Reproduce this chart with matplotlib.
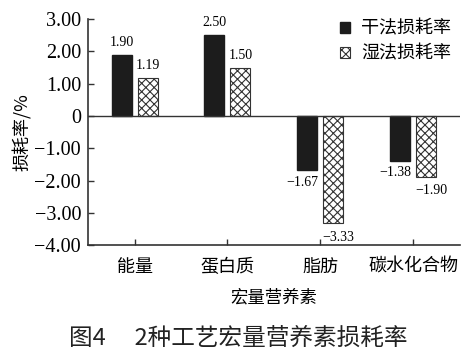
import matplotlib
matplotlib.use("Agg")
import matplotlib.pyplot as plt
import numpy as np

categories = ["能量", "蛋白质", "脂肪", "碳水化合物"]
dry = [1.90, 2.50, -1.67, -1.38]
wet = [1.19, 1.50, -3.33, -1.90]
series_names = ["干法损耗率", "湿法损耗率"]
yticks = [3, 2, 1, 0, -1, -2, -3, -4]
ytick_labels = ["3.00", "2.00", "1.00", "0", "\u22121.00", "\u22122.00", "\u22123.00", "\u22124.00"]

plt.rcParams['hatch.color'] = '#666666'
plt.rcParams['hatch.linewidth'] = 0.8
serif = ['Liberation Serif', 'Noto Sans CJK SC']
cjk = ['Noto Sans CJK SC', 'DejaVu Sans']

fig = plt.figure(figsize=(4.76, 3.61), dpi=100)
ax = fig.add_axes([0.185, 0.321, 0.781, 0.626])

x = np.arange(len(categories))
w = 0.215
off = 0.14
b1 = ax.bar(x - off, dry, w, color='#1c1c1c', edgecolor='#1c1c1c', label=series_names[0], zorder=2)
b2 = ax.bar(x + off, wet, w, color='white', edgecolor='#333333', hatch='xxxx', linewidth=0.8,
            label=series_names[1], zorder=2)

ax.axhline(0, color='#333333', lw=1.0, zorder=3)
ax.set_xlim(-0.5, 3.5)
ax.set_ylim(-4, 3)
ax.set_yticks(yticks)
ax.set_yticklabels(ytick_labels, fontfamily=serif, fontsize=14.5)
ax.set_xticks(x)
ax.set_xticklabels(categories, fontfamily=cjk, fontsize=13)
ax.tick_params(axis='both', direction='in', length=4, width=1, color='#333333')
ax.tick_params(axis='x', pad=9)
ax.tick_params(axis='y', pad=5)
for s in ['top', 'right']:
    ax.spines[s].set_visible(False)
for s in ['left', 'bottom']:
    ax.spines[s].set_color('#333333')
    ax.spines[s].set_linewidth(1.2)

def fmt(v):
    return ("\u2212%.2f" % -v) if v < 0 else "%.2f" % v

for i, v in enumerate(dry):
    if v >= 0:
        ax.text(i - off, v + 0.18, fmt(v), ha='center', va='bottom', fontsize=10, fontfamily=serif)
    else:
        ax.text(i - off - 0.05, v - 0.18, fmt(v), ha='center', va='top', fontsize=10, fontfamily=serif)
for i, v in enumerate(wet):
    if v >= 0:
        ax.text(i + off, v + 0.18, fmt(v), ha='center', va='bottom', fontsize=10, fontfamily=serif)
    else:
        ax.text(i + off + 0.05, v - 0.22, fmt(v), ha='center', va='top', fontsize=10, fontfamily=serif)

ax.set_xlabel("宏量营养素", fontfamily=cjk, fontsize=12.5, labelpad=9)
ax.set_ylabel("损耗率/%", fontfamily=cjk, fontsize=13, labelpad=2)

leg = ax.legend(loc='upper right', bbox_to_anchor=(1.02, 1.07), frameon=False,
                prop={'family': cjk, 'size': 13}, handlelength=0.55, handleheight=0.55,
                handletextpad=0.6, labelspacing=0.4)

fig.text(0.5, 0.062, "图4\u3000 2种工艺宏量营养素损耗率", ha='center', va='center',
         fontsize=17, fontfamily=cjk, fontweight='medium', color='#222222')

fig.savefig("out.png", dpi=100)
